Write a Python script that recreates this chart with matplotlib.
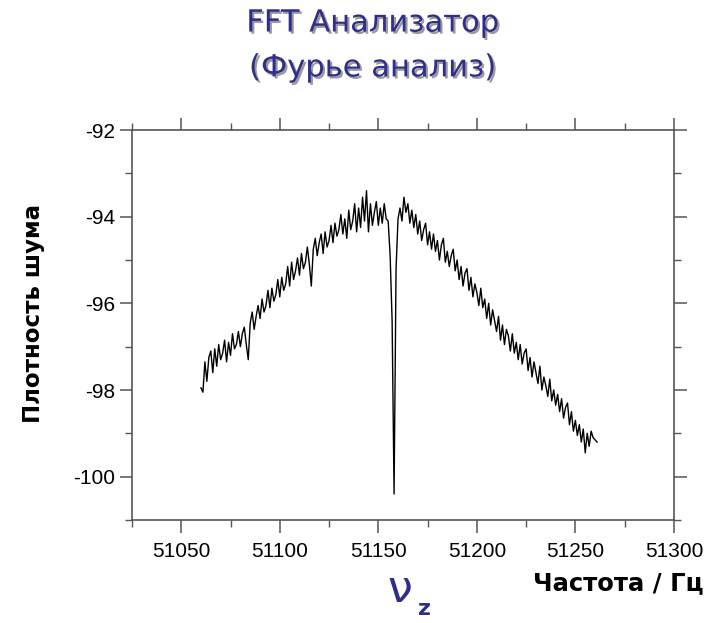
import numpy as np
import matplotlib.pyplot as plt
import matplotlib.patheffects as pe
from matplotlib.ticker import MultipleLocator

plt.rcParams['font.family'] = ['Liberation Sans', 'DejaVu Sans']
plt.rcParams['axes.unicode_minus'] = False

# Spectrum, 1 Hz step starting at 51060 Hz
f_start = 51060
noise_density = [
    -97.95, -98.05, -97.35, -97.80, -97.25, -97.10, -97.60, -97.05, -97.45, -96.95,
    -97.30, -97.15, -96.85, -97.35, -96.90, -97.20, -96.70, -97.05, -96.95, -96.65,
    -97.00, -96.70, -96.55, -96.95, -97.30, -96.45, -96.20, -96.60, -96.30, -96.05,
    -96.35, -95.90, -96.20, -96.05, -95.70, -96.10, -95.65, -95.95, -95.80, -95.45,
    -95.85, -95.40, -95.70, -95.55, -95.15, -95.60, -95.05, -95.45, -95.25, -94.95,
    -95.35, -94.85, -95.20, -95.05, -94.70, -95.10, -95.60, -94.75, -94.50, -94.90,
    -94.60, -94.40, -94.85, -94.35, -94.70, -94.55, -94.20, -94.60, -94.15, -94.45,
    -94.30, -93.95, -94.40, -94.05, -94.50, -93.85, -94.30, -94.10, -93.70, -94.35,
    -93.80, -94.25, -93.55, -94.10, -93.40, -94.35, -93.70, -94.20, -93.90, -93.65,
    -94.20, -93.80, -94.15, -93.70, -94.05, -94.10, -94.90, -96.40, -100.40, -95.20,
    -94.05, -93.80, -94.10, -93.55, -93.90, -93.70, -94.15, -93.85, -94.25, -93.95,
    -94.40, -94.10, -94.55, -94.30, -94.15, -94.65, -94.35, -94.75, -94.40, -94.80,
    -94.55, -95.00, -94.65, -94.50, -95.05, -94.80, -95.15, -94.90, -94.75, -95.25,
    -95.00, -95.45, -95.15, -95.60, -95.30, -95.20, -95.70, -95.40, -95.85, -95.55,
    -95.75, -96.05, -95.65, -96.10, -95.90, -96.35, -96.00, -96.50, -96.15, -96.40,
    -96.65, -96.30, -96.85, -96.50, -96.95, -96.60, -96.75, -97.10, -96.70, -97.15,
    -96.90, -97.30, -96.95, -97.40, -97.15, -97.05, -97.55, -97.25, -97.70, -97.35,
    -97.60, -97.85, -97.45, -98.00, -97.70, -97.90, -98.15, -97.75, -98.25, -98.00,
    -98.35, -98.10, -98.50, -98.20, -98.65, -98.40, -98.30, -98.80, -98.50, -98.95,
    -98.70, -99.05, -98.80, -99.20, -98.90, -99.45, -99.00, -99.30, -98.95, -99.10,
    -99.15, -99.20,
]
freq = f_start + np.arange(len(noise_density))

x_ticks = [51050, 51100, 51150, 51200, 51250, 51300]
y_ticks = [-100, -98, -96, -94, -92]

blue = '#2e2e8c'
spine_col = '#555555'

fig = plt.figure(figsize=(7.2, 6.23), dpi=100)
ax = fig.add_axes([0.1833, 0.1653, 0.7527, 0.626])

ax.plot(freq, noise_density, color='black', lw=1.0)

ax.set_xlim(51025, 51300)
ax.set_ylim(-101, -92)
ax.set_xticks(x_ticks)
ax.set_yticks(y_ticks)
ax.xaxis.set_minor_locator(MultipleLocator(25))
ax.yaxis.set_minor_locator(MultipleLocator(1))

for s in ax.spines.values():
    s.set_color(spine_col)
    s.set_linewidth(1.2)

ax.tick_params(which='both', direction='out', color=spine_col,
               top=True, right=True, labeltop=False, labelright=False,
               labelsize=15)
ax.tick_params(which='major', length=9, width=1.1)
ax.tick_params(which='minor', length=5, width=1.0)
ax.tick_params(axis='x', pad=7)
ax.tick_params(axis='y', pad=3)

shadow = [pe.withSimplePatchShadow(offset=(1.5, -1.5), shadow_rgbFace='#9a9a9a', alpha=1.0)]
fig.text(0.517, 0.963, 'FFT Анализатор', ha='center', va='center',
         fontsize=22, color=blue, family='DejaVu Sans', path_effects=shadow)
fig.text(0.517, 0.891, '(Фурье анализ)', ha='center', va='center',
         fontsize=22, color=blue, family='DejaVu Sans', path_effects=shadow)

fig.text(0.046, 0.496, 'Плотность шума', rotation=90, ha='center', va='center',
         fontsize=16.5, fontweight='bold', family='DejaVu Sans')
fig.text(0.859, 0.064, 'Частота / Гц', ha='center', va='center',
         fontsize=17.5, fontweight='bold', family='DejaVu Sans')

fig.text(0.556, 0.053, 'ν', ha='center', va='center', fontsize=32,
         color=blue, family='DejaVu Sans')
fig.text(0.589, 0.022, 'z', ha='center', va='center', fontsize=16,
         fontweight='bold', color=blue, family='DejaVu Sans')

fig.savefig('out.png', dpi=100)
